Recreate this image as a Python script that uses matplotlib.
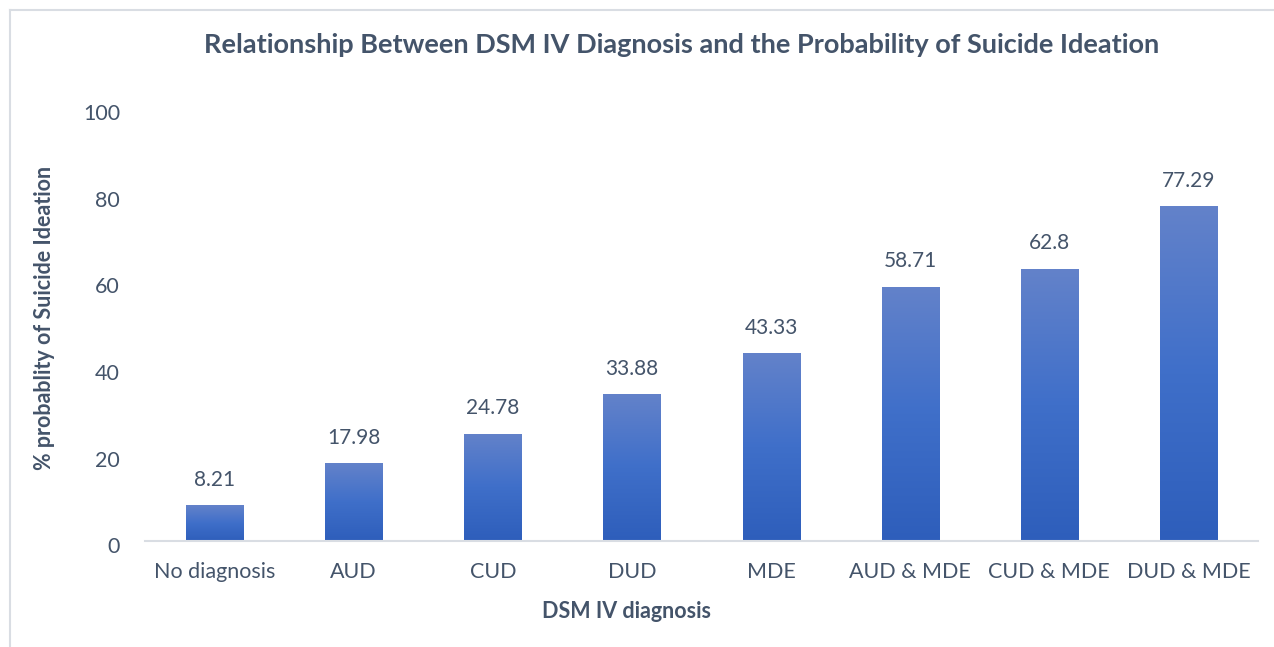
import numpy as np
import matplotlib.pyplot as plt
import matplotlib.transforms as mtransforms
from matplotlib.colors import LinearSegmentedColormap
from matplotlib.lines import Line2D

categories = ["No diagnosis", "AUD", "CUD", "DUD", "MDE",
              "AUD & MDE", "CUD & MDE", "DUD & MDE"]
values = [8.21, 17.98, 24.78, 33.88, 43.33, 58.71, 62.8, 77.29]
labels = ["8.21", "17.98", "24.78", "33.88", "43.33", "58.71", "62.8", "77.29"]

txt = "#44546A"
plt.rcParams['font.family'] = ['Lato', 'DejaVu Sans']

fig = plt.figure(figsize=(12.74, 6.47), dpi=100)
ax = fig.add_axes([145/1274, 1-541/647, 1113/1274, 433/647])

cmap = LinearSegmentedColormap.from_list("g", ["#2E5EBB", "#3F6FC9", "#6382CA"])
grad = np.linspace(0, 1, 256).reshape(-1, 1)
w = 0.41
x = np.arange(len(categories))
bars = ax.bar(x, values, width=w, color="none", edgecolor="none")
for b, v, lab in zip(bars, values, labels):
    x0 = b.get_x()
    im = ax.imshow(grad, extent=[x0, x0 + w, 0, v], origin="lower",
                   cmap=cmap, aspect="auto", zorder=2)
    im.set_clip_path(b)
    ax.text(b.get_x() + w/2, v + 3.6, lab, ha="center", va="bottom",
            fontsize=15, color=txt)

ax.set_xlim(-0.5, len(categories) - 0.5)
ax.set_ylim(0, 100)
ax.set_yticks(range(0, 101, 20))
ax.set_xticks(x)
ax.set_xticklabels(categories)
ax.tick_params(axis="both", length=0, labelsize=15.5, colors=txt)
ax.tick_params(axis="x", pad=15)
ax.tick_params(axis="y", pad=18)
# nudge y tick labels down a little, like the original
shift = mtransforms.ScaledTranslation(0, -3/72, fig.dpi_scale_trans)
for t in ax.get_yticklabels():
    t.set_transform(t.get_transform() + shift)
for s in ["top", "right", "left"]:
    ax.spines[s].set_visible(False)
ax.spines["bottom"].set_color("#D9DDE3")
ax.spines["bottom"].set_linewidth(1.5)

fig.text(682/1274, 1-45/647, "Relationship Between DSM IV Diagnosis and the Probability of Suicide Ideation",
         ha="center", va="center", fontsize=19.5, fontweight="bold", color=txt)
fig.text(627/1274, 1-612/647, "DSM IV diagnosis", ha="center", va="center",
         fontsize=15.5, fontweight="bold", color=txt)
fig.text(45/1274, 1-318/647, "% probablity of Suicide Ideation", ha="center", va="center",
         rotation=90, fontsize=15.5, fontweight="bold", color=txt)

fig.add_artist(Line2D([10/1274, 10/1274], [0, 1-10/647], color="#D9DDE3", lw=1.5))
fig.add_artist(Line2D([10/1274, 1], [1-10/647, 1-10/647], color="#D9DDE3", lw=1.5))

fig.savefig("out.png", dpi=100)
